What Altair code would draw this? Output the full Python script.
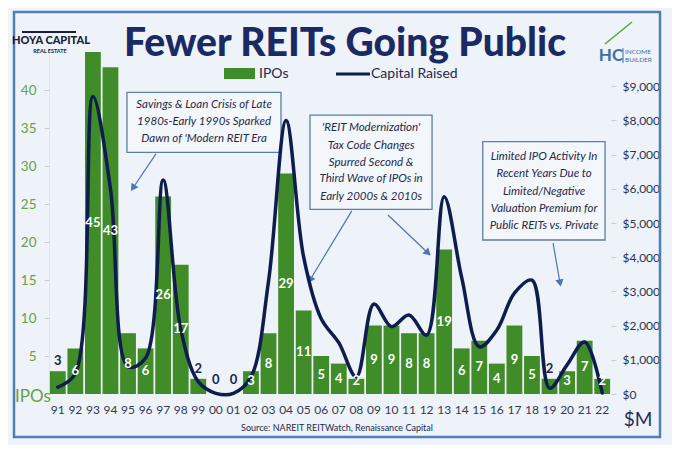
import math
import altair as alt
import pandas as pd

# ---------------- data ----------------
years = ["91", "92", "93", "94", "95", "96", "97", "98", "99", "00", "01", "02",
         "03", "04", "05", "06", "07", "08", "09", "10", "11", "12", "13", "14",
         "15", "16", "17", "18", "19", "20", "21", "22"]
ipos = [3, 6, 45, 43, 8, 6, 26, 17, 2, 0, 0, 3, 8, 29, 11, 5, 4, 2, 9, 9, 8, 8,
        19, 6, 7, 4, 9, 5, 2, 3, 7, 2]
capital = [200, 600, 8700, 6000, 800, 1050, 6260, 1900, 360, 20, 20, 500, 3300,
           8000, 4000, 2200, 1500, 500, 2630, 1970, 2310, 1720, 5770, 3400, 1380,
           1870, 2950, 3330, 170, 850, 1520, 30]
dark_label_years = ["91", "99", "00", "01", "19"]

left_ticks = [5, 10, 15, 20, 25, 30, 35, 40]
right_ticks = [0, 1000, 2000, 3000, 4000, 5000, 6000, 7000, 8000, 9000]

# annotation boxes (data coords: year index, IPO count)
box_x1 = [3.94, 14.36, 24.2]
box_x2 = [12.71, 21.31, 31.16]
box_y1 = [39.7, 36.7, 33.2]
box_y2 = [31.8, 24.3, 20.26]

note_x = [8.33, 8.33, 8.33,
          17.84, 17.84, 17.84, 17.84, 17.84,
          27.69, 27.69, 27.69, 27.69, 27.69]
note_y = [38.0, 35.8, 33.6,
          34.96, 32.67, 30.43, 28.25, 25.96,
          31.22, 28.95, 26.62, 24.34, 22.14]
note_text = ["Savings & Loan Crisis of Late", "1980s-Early 1990s Sparked",
             "Dawn of 'Modern REIT Era",
             "'REIT Modernization'", "Tax Code Changes", "Spurred Second &",
             "Third Wave of IPOs in", "Early 2000s & 2010s",
             "Limited IPO Activity In", "Recent Years Due to", "Limited/Negative",
             "Valuation Premium for", "Public REITs vs. Private"]

arrow_sx = [5.59, 16.74, 18.80, 28.2]
arrow_sy = [31.6, 24.1, 23.55, 19.87]
arrow_ex = [4.28, 14.36, 21.08, 28.6]
arrow_ey = [27.1, 15.0, 18.55, 14.6]

# ---------------- styling ----------------
GREEN = "#3f8c29"
NAVY = "#0e1d4d"
BG = "#eef2f9"
FRAME = "#4f7fb8"
ARROW = "#4f74b5"
BOXSTROKE = "#5b7fa3"
FONT = "Lato"

W, H = 562, 342
PX_X = W / 32.0
PX_Y = H / 45.0

df = pd.DataFrame({"idx": list(range(len(years))), "year": years,
                   "ipos": ipos, "capital": capital})
df["x1"] = df["idx"] - 0.45
df["x2"] = df["idx"] + 0.45
df["zero"] = 0
df["dark"] = df["year"].isin(dark_label_years)
df["lab_pos"] = [(max(v, 0.5) + 1.3) if d else max(v / 2.0, 1.7)
                 for v, d in zip(df["ipos"], df["dark"])]
df["lab_col"] = ["#1a2550" if d else "white" for d in df["dark"]]
df["lab"] = df["ipos"].astype(str)

boxes = pd.DataFrame({"x1": box_x1, "x2": box_x2, "y1": box_y1, "y2": box_y2})
notes = pd.DataFrame({"x": note_x, "y": note_y, "t": note_text})
arrows = pd.DataFrame({"sx": arrow_sx, "sy": arrow_sy, "ex": arrow_ex, "ey": arrow_ey})
arrows["ang"] = [
    (math.degrees(math.atan2((ex - sx) * PX_X, (ey - sy) * PX_Y)) + 360) % 360
    for sx, sy, ex, ey in zip(arrows.sx, arrows.sy, arrows.ex, arrows.ey)
]

xs = alt.Scale(domain=[-0.5, 31.5], nice=False, zero=False)
yl = alt.Scale(domain=[0, 45], nice=False)
yr = alt.Scale(domain=[0, 10000], nice=False)

bars = alt.Chart(df).mark_rect(color=GREEN).encode(
    x=alt.X("x1:Q", scale=xs, axis=None),
    x2="x2:Q",
    y=alt.Y("ipos:Q", scale=yl, title=None,
            axis=alt.Axis(values=left_ticks, grid=False, tickColor="#c9ccd4",
                          tickSize=5, labelPadding=8, labelColor="#6aa046",
                          labelFontSize=13.5, labelFont=FONT, domain=True,
                          domainColor="#dfe9dc", domainWidth=1)),
    y2="zero:Q",
)

x_labels = alt.Chart(df).mark_text(fontSize=12, font=FONT, color="#333b52").encode(
    x=alt.X("idx:Q", scale=xs, axis=None),
    y=alt.value(H + 16),
    text="year:N",
)

bar_labels = alt.Chart(df).mark_text(fontWeight="bold", fontSize=13, font=FONT).encode(
    x=alt.X("idx:Q", scale=xs, axis=None),
    y=alt.Y("lab_pos:Q", scale=yl, axis=None),
    text="lab:N",
    color=alt.Color("lab_col:N", scale=None),
)

box_layer = alt.Chart(boxes).mark_rect(fill="#f3f6fb", stroke=BOXSTROKE,
                                       strokeWidth=1.3).encode(
    x=alt.X("x1:Q", scale=xs, axis=None), x2="x2:Q",
    y=alt.Y("y1:Q", scale=yl, axis=None), y2="y2:Q",
)

note_layer = alt.Chart(notes).mark_text(fontStyle="italic", fontSize=11.5,
                                        color="#1f2a4a", font=FONT).encode(
    x=alt.X("x:Q", scale=xs, axis=None),
    y=alt.Y("y:Q", scale=yl, axis=None),
    text="t:N",
)

arrow_lines = alt.Chart(arrows).mark_rule(color=ARROW, strokeWidth=1.2).encode(
    x=alt.X("sx:Q", scale=xs, axis=None), x2="ex:Q",
    y=alt.Y("sy:Q", scale=yl, axis=None), y2="ey:Q",
)

arrow_heads = alt.Chart(arrows).mark_point(shape="triangle-up", filled=True,
                                           color=ARROW, size=70, opacity=1).encode(
    x=alt.X("ex:Q", scale=xs, axis=None),
    y=alt.Y("ey:Q", scale=yl, axis=None),
    angle=alt.Angle("ang:Q", scale=None),
)

line = alt.Chart(df).mark_line(color=NAVY, strokeWidth=3.5, interpolate="catmull-rom",
                               strokeCap="round").encode(
    x=alt.X("idx:Q", scale=xs, axis=None),
    y=alt.Y("capital:Q", scale=yr, title=None,
            axis=alt.Axis(orient="right", values=right_ticks, format="$,.0f",
                          grid=False, domain=False, tickColor="#c9ccd4", tickSize=5,
                          labelPadding=6, labelColor="#2a3452", labelFontSize=12,
                          labelFont=FONT)),
)

one = alt.Data(values=[{"a": 1}])

frame = alt.Chart(one).mark_rect(fillOpacity=0, stroke=FRAME, strokeWidth=2.5).encode(
    x=alt.value(-35), x2=alt.value(611), y=alt.value(-40), y2=alt.value(385))

title = alt.Chart(one).mark_text(text="Fewer REITs Going Public", font=FONT,
                                 fontSize=39, fontWeight=900, color="#1b2a63",
                                 baseline="alphabetic").encode(
    x=alt.value(296), y=alt.value(4))

leg_rect = alt.Chart(one).mark_rect(color=GREEN).encode(
    x=alt.value(175), x2=alt.value(206), y=alt.value(16), y2=alt.value(27))
leg_t1 = alt.Chart(one).mark_text(text="IPOs", align="left", fontSize=14,
                                  font=FONT, color="#1f2a4a").encode(
    x=alt.value(210), y=alt.value(22))
leg_line = alt.Chart(one).mark_rule(color=NAVY, strokeWidth=3).encode(
    x=alt.value(287), x2=alt.value(321), y=alt.value(22))
leg_t2 = alt.Chart(one).mark_text(text="Capital Raised", align="left", fontSize=14,
                                  font=FONT, color="#1f2a4a").encode(
    x=alt.value(322), y=alt.value(22))

ipos_lab = alt.Chart(one).mark_text(text="IPOs", fontSize=17, font=FONT,
                                    color="#6aa046").encode(
    x=alt.value(-16), y=alt.value(345))
m_lab = alt.Chart(one).mark_text(text="$M", fontSize=19, font=FONT,
                                 color="#1f2f5f").encode(
    x=alt.value(589), y=alt.value(368))
source = alt.Chart(one).mark_text(text="Source: NAREIT REITWatch, Renaissance Capital",
                                  fontSize=9, font=FONT, color="#1f2a4a").encode(
    x=alt.value(288), y=alt.value(376))

hoya1 = alt.Chart(one).mark_text(text="HOYA CAPITAL", fontSize=11, fontWeight=900,
                                 font=FONT, color="#1a1f3a").encode(
    x=alt.value(2), y=alt.value(-11))
hoya2 = alt.Chart(one).mark_text(text="REAL ESTATE", fontSize=5.5, fontWeight="bold",
                                 font=FONT, color="#1a1f3a").encode(
    x=alt.value(1), y=alt.value(-1))
sky = alt.Chart(one).mark_rule(color="#1a1f3a", strokeWidth=2).encode(
    x=alt.value(-27), x2=alt.value(27), y=alt.value(-20))
hc = alt.Chart(one).mark_text(text="HC", fontSize=17, fontWeight="bold",
                              font=FONT, color="#3d6fa8").encode(
    x=alt.value(562), y=alt.value(4))
hc_sep = alt.Chart(one).mark_rule(color="#3d6fa8", strokeWidth=1).encode(
    x=alt.value(574), y=alt.value(-4), y2=alt.value(11))
hc1 = alt.Chart(one).mark_text(text="INCOME", fontSize=6.5, font=FONT,
                               color="#3d6fa8", align="left").encode(
    x=alt.value(576), y=alt.value(0))
hc2 = alt.Chart(one).mark_text(text="BUILDER", fontSize=6.5, font=FONT,
                               color="#3d6fa8", align="left").encode(
    x=alt.value(576), y=alt.value(8))
hc_arrow = alt.Chart(one).mark_rule(color="#5aa43c", strokeWidth=1.5).encode(
    x=alt.value(556), x2=alt.value(583), y=alt.value(-8), y2=alt.value(-30))

chart = alt.layer(
    frame, bars, x_labels, box_layer, note_layer, arrow_lines, arrow_heads, line,
    bar_labels, title, leg_rect, leg_t1, leg_line, leg_t2,
    ipos_lab, m_lab, source, hoya1, hoya2, sky, hc, hc_sep, hc1, hc2, hc_arrow,
).resolve_scale(y="independent").properties(
    width=W, height=H,
    autosize=alt.AutoSizeParams(type="none"),
    padding={"left": 41, "top": 44, "right": 61, "bottom": 51},
    background=BG,
).configure_view(stroke=None)

chart.save("out.html", embed_options={"renderer": "svg", "actions": False})
